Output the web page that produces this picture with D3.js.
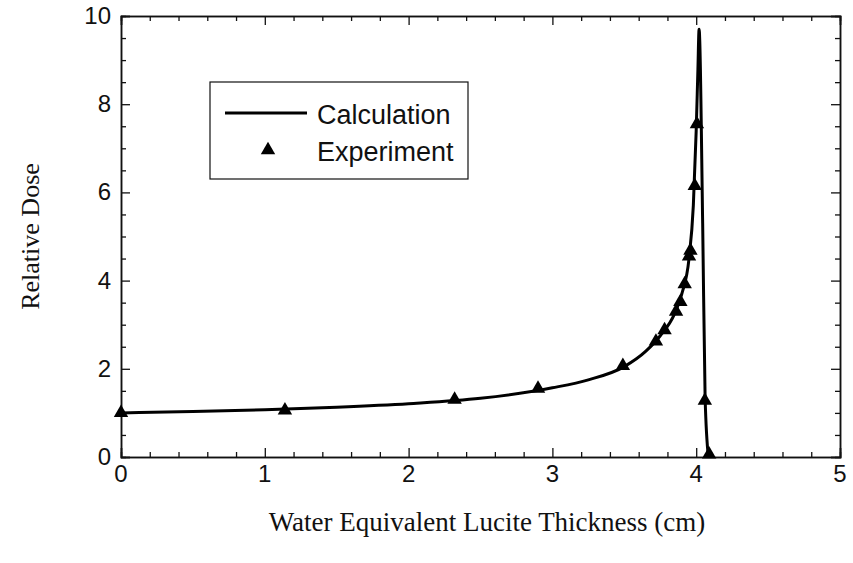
<!DOCTYPE html>
<html>
<head>
<meta charset="utf-8">
<script src="https://cdn.jsdelivr.net/npm/d3@7"></script>
<style>
  body { margin: 0; background: #fff; }
</style>
</head>
<body>
<div class="chart"></div>
<script>
// Calculated curve (relative dose vs water equivalent thickness)
const calcX = [0, 0.5, 1, 1.5, 2, 2.5, 3, 3.25, 3.5, 3.65, 3.75, 3.85, 3.9, 3.95, 3.98, 4.0, 4.012, 4.02, 4.045, 4.062, 4.085];
const calcY = [1.0, 1.03, 1.07, 1.13, 1.21, 1.33, 1.57, 1.75, 2.05, 2.4, 2.75, 3.25, 3.7, 4.5, 5.7, 7.4, 8.8, 9.7, 5.3, 1.35, 0];

// Measured points
const expX = [0, 1.14, 2.32, 2.9, 3.49, 3.72, 3.78, 3.86, 3.89, 3.92, 3.95, 3.96, 3.99, 4.005, 4.06, 4.09];
const expY = [1.0, 1.06, 1.3, 1.55, 2.07, 2.62, 2.88, 3.3, 3.52, 3.92, 4.55, 4.68, 6.15, 7.55, 1.28, 0.06];

const xTicks = [0, 1, 2, 3, 4, 5];
const yTicks = [0, 2, 4, 6, 8, 10];
const legendLabels = ["Calculation", "Experiment"];

const W = 853, H = 563;
const plot = { left: 121, right: 840, top: 16, bottom: 457 };

const svg = d3.select(".chart").append("svg")
  .attr("width", W).attr("height", H);

const x = d3.scaleLinear().domain([0, 5]).range([plot.left, plot.right]);
const y = d3.scaleLinear().domain([0, 10]).range([plot.bottom, plot.top]);

const minorX = d3.range(0, 5.001, 0.2).filter((v) => Math.abs(v - Math.round(v)) > 1e-6);
const minorY = d3.range(0, 10.001, 0.5).filter((v) => Math.abs(v / 2 - Math.round(v / 2)) > 1e-6);

// frame axes, ticks pointing inward on all four sides
function tickAxis(axisFn, scale, values, size) {
  return axisFn(scale).tickValues(values).tickSize(size).tickFormat("");
}
const frame = svg.append("g").attr("class", "frame");
frame.append("g").attr("transform", `translate(0,${plot.bottom})`).call(tickAxis(d3.axisTop, x, xTicks, 9));
frame.append("g").attr("transform", `translate(0,${plot.bottom})`).call(tickAxis(d3.axisTop, x, minorX, 5));
frame.append("g").attr("transform", `translate(0,${plot.top})`).call(tickAxis(d3.axisBottom, x, xTicks, 9));
frame.append("g").attr("transform", `translate(0,${plot.top})`).call(tickAxis(d3.axisBottom, x, minorX, 5));
frame.append("g").attr("transform", `translate(${plot.left},0)`).call(tickAxis(d3.axisRight, y, yTicks, 9));
frame.append("g").attr("transform", `translate(${plot.left},0)`).call(tickAxis(d3.axisRight, y, minorY, 5));
frame.append("g").attr("transform", `translate(${plot.right},0)`).call(tickAxis(d3.axisLeft, y, yTicks, 9));
frame.append("g").attr("transform", `translate(${plot.right},0)`).call(tickAxis(d3.axisLeft, y, minorY, 5));
frame.selectAll(".domain").attr("stroke", "#111").attr("stroke-width", 1.5);
frame.selectAll(".tick line").attr("stroke", "#111").attr("stroke-width", 1.3);

// tick labels
svg.append("g").selectAll("text").data(xTicks).enter().append("text")
  .attr("x", (d) => x(d)).attr("y", plot.bottom + 25)
  .attr("text-anchor", "middle")
  .attr("font-family", "Liberation Sans, Arial, sans-serif")
  .attr("font-size", 24).attr("fill", "#111")
  .text((d) => d);

svg.append("g").selectAll("text").data(yTicks).enter().append("text")
  .attr("x", plot.left - 10).attr("y", (d) => y(d) + 8)
  .attr("text-anchor", "end")
  .attr("font-family", "Liberation Sans, Arial, sans-serif")
  .attr("font-size", 24).attr("fill", "#111")
  .text((d) => d);

// axis titles
svg.append("text")
  .attr("x", 487).attr("y", 531)
  .attr("text-anchor", "middle")
  .attr("font-family", "Liberation Serif, Times New Roman, serif")
  .attr("font-size", 27).attr("fill", "#111")
  .text("Water Equivalent Lucite Thickness (cm)");

svg.append("text")
  .attr("transform", `translate(39,${(plot.top + plot.bottom) / 2}) rotate(-90)`)
  .attr("text-anchor", "middle")
  .attr("font-family", "Liberation Serif, Times New Roman, serif")
  .attr("font-size", 26).attr("fill", "#111")
  .text("Relative Dose");

// calculation curve
const calcData = calcX.map((v, i) => ({ x: v, y: calcY[i] }));
svg.append("path")
  .datum(calcData)
  .attr("fill", "none")
  .attr("stroke", "#000")
  .attr("stroke-width", 3)
  .attr("stroke-linejoin", "round")
  .attr("d", d3.line().x((d) => x(d.x)).y((d) => y(d.y)).curve(d3.curveMonotoneX));

// experiment points
const tri = d3.symbol().type(d3.symbolTriangle).size(90);
svg.append("g").selectAll("path").data(expX.map((v, i) => ({ x: v, y: expY[i] })))
  .enter().append("path")
  .attr("transform", (d) => `translate(${x(d.x)},${y(d.y)})`)
  .attr("d", tri)
  .attr("fill", "#000");

// legend
const lg = svg.append("g").attr("transform", "translate(210,82)");
lg.append("rect").attr("width", 258).attr("height", 97)
  .attr("fill", "#fff").attr("stroke", "#111").attr("stroke-width", 1.2);
lg.append("line").attr("x1", 15).attr("x2", 97).attr("y1", 31).attr("y2", 31)
  .attr("stroke", "#000").attr("stroke-width", 3);
lg.append("path").attr("transform", "translate(58,68)").attr("d", tri).attr("fill", "#000");
lg.selectAll("text.lab").data(legendLabels).enter().append("text")
  .attr("class", "lab")
  .attr("x", 107).attr("y", (d, i) => 42 + i * 37)
  .attr("font-family", "Liberation Sans, Arial, sans-serif")
  .attr("font-size", 27).attr("fill", "#111")
  .text((d) => d);
</script>
</body>
</html>
